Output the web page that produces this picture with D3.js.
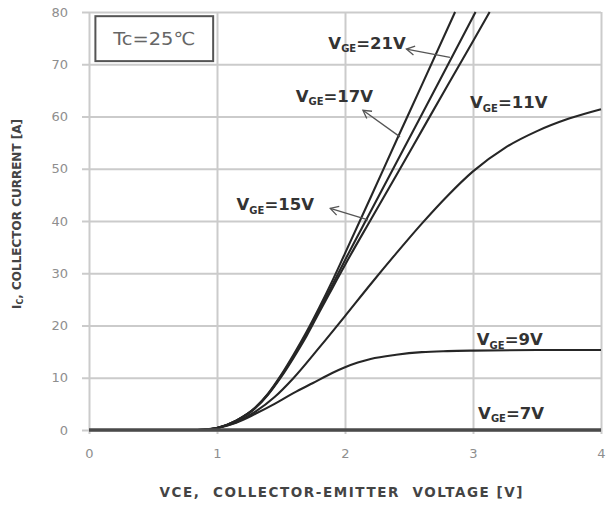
<!DOCTYPE html>
<html><head><meta charset="utf-8">
<script src="https://cdn.jsdelivr.net/npm/d3@7/dist/d3.min.js"></script>
<style>body{margin:0;background:#fff}svg{display:block}</style>
</head><body><svg id="c" width="606" height="512"></svg>
<script>
// ---- data ----
const xTicks = [0, 1, 2, 3, 4];
const yTicks = [0, 10, 20, 30, 40, 50, 60, 70, 80];

const vce7 = [0, 4];
const ic7  = [0, 0];

const vce9 = [0.85, 1.0, 1.15, 1.3, 1.45, 1.6, 1.75, 1.9, 2.0, 2.1, 2.2, 2.4, 2.6, 2.8, 3.0, 3.5, 4.0];
const ic9  = [0, 0.4, 1.4, 3.1, 5.0, 7.1, 9.0, 10.9, 12.0, 12.9, 13.6, 14.4, 14.9, 15.1, 15.2, 15.3, 15.3];

const vce11 = [0.85, 1.0, 1.15, 1.3, 1.45, 1.6, 1.8, 2.0, 2.2, 2.4, 2.6, 2.8, 3.0, 3.25, 3.5, 3.75, 4.0];
const ic11  = [0, 0.4, 1.5, 3.5, 6.3, 10.0, 15.8, 21.8, 27.9, 33.8, 39.5, 44.8, 49.5, 54.0, 57.2, 59.6, 61.4];

const vce15 = [0.85, 1.0, 1.15, 1.3, 1.4, 1.5, 1.6, 1.7, 1.8, 1.9, 2.0, 2.2, 2.4, 2.6, 2.8, 3.0, 3.13];
const ic15  = [0, 0.4, 1.8, 4.2, 6.8, 10.1, 13.9, 18.0, 22.6, 27.1, 31.6, 40.2, 48.7, 57.3, 65.9, 74.4, 80.0];

const vce17 = [0.85, 1.0, 1.15, 1.3, 1.4, 1.5, 1.6, 1.7, 1.8, 1.9, 2.0, 2.2, 2.4, 2.6, 2.8, 3.02];
const ic17  = [0, 0.4, 1.8, 4.3, 6.9, 10.3, 14.2, 18.4, 23.0, 27.7, 32.5, 41.8, 51.1, 60.4, 69.7, 80.0];

const vce21 = [0.85, 1.0, 1.15, 1.3, 1.4, 1.5, 1.6, 1.7, 1.8, 1.9, 2.0, 2.2, 2.4, 2.6, 2.86];
const ic21  = [0, 0.4, 1.8, 4.3, 7.0, 10.5, 14.5, 18.8, 23.5, 28.5, 33.8, 44.5, 55.3, 66.0, 80.0];

const vgeLabels = ["7V", "9V", "11V", "15V", "17V", "21V"];

// ---- layout ----
const svg = d3.select("#c");
const x = d3.scaleLinear().domain([0, 4]).range([89, 601]);
const y = d3.scaleLinear().domain([0, 80]).range([430, 12]);
const plotW = x(4) - x(0), plotH = y(0) - y(80);

const font = "'DejaVu Sans', Verdana, sans-serif";

// gridlines + tick labels via axes
const gx = svg.append("g").attr("transform", `translate(0,${y(0)})`)
  .call(d3.axisBottom(x).tickValues(xTicks).tickFormat(d3.format("d"))
    .tickSizeInner(-plotH).tickSizeOuter(0).tickPadding(19));
gx.select(".domain").remove();
gx.selectAll(".tick line").attr("y1", 4).attr("stroke", "#cbcbcb").attr("stroke-width", 2);
gx.selectAll(".tick text").attr("font-family", font).attr("font-size", 13).attr("fill", "#8e8e8e");

const gy = svg.append("g").attr("transform", `translate(${x(0)},0)`)
  .call(d3.axisLeft(y).tickValues(yTicks).tickFormat(d3.format("d"))
    .tickSizeInner(-plotW).tickSizeOuter(0).tickPadding(21));
gy.select(".domain").remove();
gy.selectAll(".tick line").attr("x1", -7).attr("stroke", "#cbcbcb").attr("stroke-width", 2);
gy.selectAll(".tick text").attr("font-family", font).attr("font-size", 13).attr("fill", "#8e8e8e");

// clip
const defs = svg.append("defs");
defs.append("clipPath").attr("id", "plot")
  .append("rect").attr("x", x(0) - 2).attr("y", y(80) - 1).attr("width", plotW + 4).attr("height", plotH + 4);

defs.append("marker").attr("id", "arr").attr("viewBox", "-10 -6 12 12")
  .attr("refX", 0).attr("refY", 0).attr("markerWidth", 12).attr("markerHeight", 12)
  .attr("markerUnits", "userSpaceOnUse").attr("orient", "auto")
  .append("path").attr("d", "M-8,-4.5 L0,0 L-8,4.5").attr("fill", "none")
  .attr("stroke", "#555").attr("stroke-width", 1.3);

const series = [
  {vce: vce9, ic: ic9},
  {vce: vce11, ic: ic11},
  {vce: vce15, ic: ic15},
  {vce: vce17, ic: ic17},
  {vce: vce21, ic: ic21}
];
const line = d3.line().x(d => x(d[0])).y(d => y(d[1])).curve(d3.curveMonotoneX);
const gc = svg.append("g").attr("clip-path", "url(#plot)");
gc.selectAll("path.curve").data(series).join("path").attr("class", "curve")
  .attr("d", s => line(d3.zip(s.vce, s.ic)))
  .attr("fill", "none").attr("stroke", "#262626").attr("stroke-width", 2.1);
// VGE=7V flat line
gc.append("path").attr("d", line(d3.zip(vce7, ic7)))
  .attr("fill", "none").attr("stroke", "#4a4a4a").attr("stroke-width", 3.5);

// annotation placements (data coordinates)
const labelPos = {
  "21V": [1.87, 73.0], "17V": [1.615, 62.8], "15V": [1.153, 42.1],
  "11V": [2.977, 61.6], "9V": [3.03, 16.2], "7V": [3.04, 2.2]
};
const arrows = [
  {from: [2.82, 71.3], to: [2.48, 72.9]},
  {from: [2.43, 56.1], to: [2.14, 61.2]},
  {from: [2.18, 40.2], to: [1.885, 42.4]}
];

vgeLabels.forEach(v => {
  const p = labelPos[v];
  const t = svg.append("text").attr("x", x(p[0])).attr("y", y(p[1]))
    .attr("font-family", font).attr("font-weight", "bold").attr("font-size", 16.5).attr("fill", "#333");
  t.append("tspan").text("V");
  t.append("tspan").attr("font-size", 10).attr("dy", 3.5).text("GE");
  t.append("tspan").attr("dy", -3.5).text("=" + v);
});

svg.selectAll("line.arrow").data(arrows).join("line").attr("class", "arrow")
  .attr("x1", d => x(d.from[0])).attr("y1", d => y(d.from[1]))
  .attr("x2", d => x(d.to[0])).attr("y2", d => y(d.to[1]))
  .attr("stroke", "#555").attr("stroke-width", 1.3).attr("marker-end", "url(#arr)");

// Tc box
svg.append("rect").attr("x", x(0.05)).attr("y", y(79.2)).attr("width", x(0.97) - x(0.05)).attr("height", y(70.6) - y(79.2))
  .attr("fill", "#fff").attr("stroke", "#555").attr("stroke-width", 2);
svg.append("text").attr("x", (x(0.05) + x(0.97)) / 2).attr("y", y(74.9)).attr("dy", "0.35em")
  .attr("text-anchor", "middle").attr("font-family", font).attr("font-size", 18).attr("fill", "#666")
  .attr("textLength", 82).attr("lengthAdjust", "spacingAndGlyphs")
  .text("Tc=25℃");

// axis titles
svg.append("text").attr("x", 341).attr("y", 497).attr("text-anchor", "middle")
  .attr("font-family", font).attr("font-weight", "bold").attr("font-size", 13.5).attr("fill", "#444")
  .attr("textLength", 363).attr("lengthAdjust", "spacing")
  .text("VCE,  COLLECTOR-EMITTER  VOLTAGE [V]").style("white-space", "pre");

const yt = svg.append("text").attr("transform", "translate(21,214) rotate(-90)").attr("text-anchor", "middle")
  .attr("font-family", font).attr("font-weight", "bold").attr("font-size", 12).attr("fill", "#444");
yt.append("tspan").text("I");
yt.append("tspan").attr("font-size", 8).attr("dy", 2).text("C");
yt.append("tspan").attr("dy", -2).text(", COLLECTOR CURRENT [A]");
</script></body></html>
